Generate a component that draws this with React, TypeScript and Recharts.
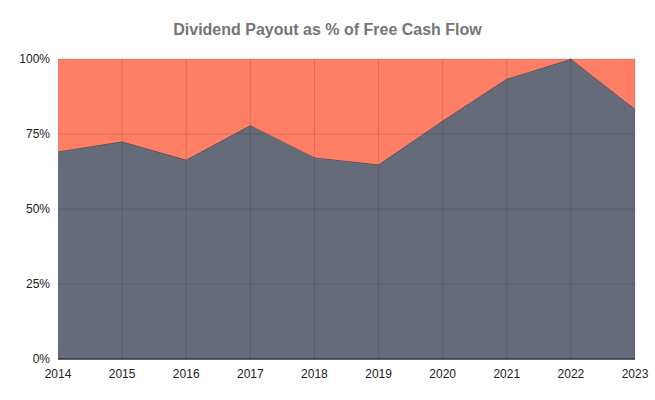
import React from 'react';
import { AreaChart, Area, XAxis, YAxis, ReferenceLine } from 'recharts';

// Years and payout ratio (% of free cash flow)
const years = ['2014', '2015', '2016', '2017', '2018', '2019', '2020', '2021', '2022', '2023'];
const payout = [69.2, 72.5, 66.4, 77.9, 67.2, 64.8, 79.4, 93.4, 100, 83.3];
const yTicks = [0, 25, 50, 75, 100];

const data = years.map((year, i) => ({
  year,
  payout: payout[i],
  rest: +(100 - payout[i]).toFixed(1),
}));

const font = 'Arial, "Liberation Sans", sans-serif';
const gridStroke = 'rgba(0,0,0,0.13)';

export default function App() {
  return (
    <div style={{ position: 'absolute', left: 0, top: 0, width: 655, height: 400, background: '#fff', fontFamily: font }}>
      <div
        style={{
          position: 'absolute',
          top: 21,
          width: 655,
          textAlign: 'center',
          fontSize: 16,
          fontWeight: 'bold',
          color: '#757575',
        }}
      >
        Dividend Payout as % of Free Cash Flow
      </div>
      <AreaChart width={655} height={400} data={data} margin={{ top: 59, right: 20, bottom: 0, left: 0 }}>
        <XAxis
          dataKey="year"
          height={41}
          tickLine={false}
          axisLine={{ stroke: '#333', strokeWidth: 1.5 }}
          tick={{ fill: '#222', fontSize: 12, fontFamily: font }}
          tickMargin={4}
          interval={0}
        />
        <YAxis
          domain={[0, 100]}
          ticks={yTicks}
          width={58}
          tickLine={false}
          axisLine={false}
          tickFormatter={(v) => `${v}%`}
          tick={{ fill: '#222', fontSize: 12, fontFamily: font }}
          tickMargin={2}
        />
        <Area
          type="linear"
          dataKey="payout"
          stackId="a"
          stroke="#3a3d47"
          strokeWidth={1}
          fill="#666b7a"
          fillOpacity={1}
          isAnimationActive={false}
        />
        <Area
          type="linear"
          dataKey="rest"
          stackId="a"
          stroke="none"
          fill="#ff7f66"
          fillOpacity={1}
          isAnimationActive={false}
        />
        {yTicks.slice(1).map((t) => (
          <ReferenceLine key={`y-${t}`} y={t} stroke={gridStroke} />
        ))}
        {years.slice(1).map((y) => (
          <ReferenceLine key={`x-${y}`} x={y} stroke={gridStroke} />
        ))}
      </AreaChart>
    </div>
  );
}
